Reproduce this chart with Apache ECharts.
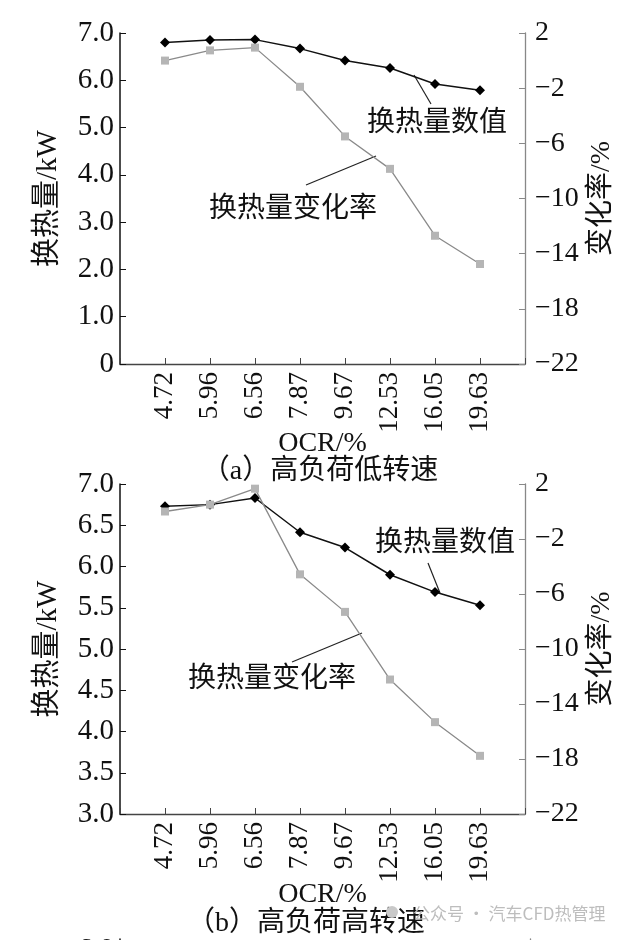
<!DOCTYPE html>
<html>
<head>
<meta charset="utf-8">
<script src="https://cdn.jsdelivr.net/npm/echarts@6/dist/echarts.min.js"></script>
<style>
html,body{margin:0;padding:0;background:#fff;}
#c{width:624px;height:940px;}
</style>
</head>
<body>
<div id="c"></div>
<script>
// ---- data ----
var ocrLabels = ['4.72','5.96','6.56','7.87','9.67','12.53','16.05','19.63'];
// (a) high load, low speed
var heatA = [6.80, 6.85, 6.86, 6.67, 6.42, 6.26, 5.92, 5.79];
var rateA = [0.0, 0.74, 0.94, -1.9, -5.5, -7.85, -12.7, -14.75];
// (b) high load, high speed
var heatB = [6.73, 6.75, 6.83, 6.415, 6.23, 5.90, 5.69, 5.53];
var rateB = [0.0, 0.5, 1.66, -4.57, -7.3, -12.22, -15.32, -17.77];
// tick ranges
var leftA = {min:0, max:7, interval:1};
var leftB = {min:3, max:7, interval:0.5};
var rightAx = {min:-22, max:2, interval:4};

// ---- helpers ----
var SERIF = '"Liberation Serif","Times New Roman","Noto Sans CJK SC",serif';
var CJK = '"Liberation Serif","Noto Sans CJK SC",sans-serif';
var cats = [''].concat(ocrLabels).concat(['']);
function pad(a){ return [null].concat(a).concat([null]); }
function minusFmt(v){ return String(v).replace('-', '\u2212'); }

var grids = [
  {left:120, right:92, top:33, height:331},
  {left:120, right:94, top:484, height:330},
  {left:120, right:94, top:939, height:330}
];

function xAxis(gi, showName, nameGap){
  return {
    type:'category', gridIndex:gi, data:cats, boundaryGap:false,
    axisLine:{onZero:false, lineStyle:{color:'#444', width:1.3}},
    axisTick:{inside:true, length:6, lineStyle:{color:'#444'}, alignWithLabel:true},
    axisLabel:{show:showName, rotate:90, margin:8, color:'#111', fontFamily:SERIF, fontSize:27, interval:0},
    name: showName ? 'OCR/%' : '', nameLocation:'middle', nameGap:nameGap, nameMoveOverlap:false,
    nameTextStyle:{color:'#111', fontFamily:SERIF, fontSize:28},
    splitLine:{show:false}
  };
}
function leftY(gi, r, showName){
  return {
    type:'value', gridIndex:gi, position:'left', min:r.min, max:r.max, interval:r.interval,
    axisLine:{show:true, onZero:false, lineStyle:{color:'#111', width:1.5}},
    axisTick:{show:true, inside:true, length:6, lineStyle:{color:'#111'}},
    axisLabel:{margin:6, color:'#111', fontFamily:SERIF, fontSize:29,
      formatter:function(v){ return v===0 ? '0' : v.toFixed(1); }},
    splitLine:{show:false},
    name: showName ? '换热量/kW' : '', nameLocation:'middle', nameGap:57, nameRotate:90, nameMoveOverlap:false,
    nameTextStyle:{color:'#111', fontFamily:CJK, fontSize:29}
  };
}
function rightY(gi, showName){
  return {
    type:'value', gridIndex:gi, position:'right', min:rightAx.min, max:rightAx.max, interval:rightAx.interval,
    axisLine:{show:true, onZero:false, lineStyle:{color:'#888', width:1.3}},
    axisTick:{show:true, inside:true, length:6, lineStyle:{color:'#888'}},
    axisLabel:{margin:10, color:'#111', fontFamily:SERIF, fontSize:28, formatter:minusFmt},
    splitLine:{show:false},
    name: showName ? '变化率/%' : '', nameLocation:'middle', nameGap:63, nameRotate:90, nameMoveOverlap:false,
    nameTextStyle:{color:'#111', fontFamily:CJK, fontSize:28}
  };
}
function heatSeries(xi, yi, d){
  return {type:'line', xAxisIndex:xi, yAxisIndex:yi, data:pad(d), symbol:'diamond', symbolSize:10,
    itemStyle:{color:'#000'}, lineStyle:{color:'#111', width:1.5}, connectNulls:false, z:3, silent:true, animation:false};
}
function rateSeries(xi, yi, d){
  return {type:'line', xAxisIndex:xi, yAxisIndex:yi, data:pad(d), symbol:'rect', symbolSize:8,
    itemStyle:{color:'#b5b5b5'}, lineStyle:{color:'#8a8a8a', width:1.3}, z:4, silent:true, animation:false};
}
function txt(x, y, s, size, color, family, align){
  return {type:'text', x:x, y:y, style:{text:s, fontSize:size, fill:color||'#111',
    fontFamily:family||CJK, textAlign:align||'center', textVerticalAlign:'middle'}};
}
function seg(x1,y1,x2,y2){
  return {type:'line', shape:{x1:x1,y1:y1,x2:x2,y2:y2}, style:{stroke:'#222', lineWidth:1.2}};
}

var option = {
  backgroundColor:'#fff',
  animation:false,
  grid: grids,
  xAxis: [xAxis(0,true,66), xAxis(1,true,67), xAxis(2,false,60)],
  yAxis: [leftY(0,leftA,true), rightY(0,true), leftY(1,leftB,true), rightY(1,true), leftY(2,leftA,false), rightY(2,false)],
  series: [
    heatSeries(0,0,heatA), rateSeries(0,1,rateA),
    heatSeries(1,2,heatB), rateSeries(1,3,rateB)
  ],
  graphic: [
    // annotations (a)
    txt(437, 124, '换热量数值', 28),
    seg(414, 75, 431, 104),
    txt(293, 210, '换热量变化率', 28),
    seg(376, 156, 306, 185),
    txt(320, 472, '（a）高负荷低转速', 28),
    // annotations (b)
    txt(445, 544, '换热量数值', 28),
    seg(428, 563, 440, 593),
    txt(272, 680, '换热量变化率', 28),
    seg(362, 633, 292, 662),
    txt(306, 924, '（b）高负荷高转速', 28),
    // watermark
    {type:'circle', shape:{cx:392, cy:912, r:6}, style:{fill:'#c9c9c9'}},
    txt(413, 914, '公众号 · 汽车CFD热管理', 17, '#bdbdbd', '"Noto Sans CJK SC",sans-serif', 'left')
  ]
};
var chart = echarts.init(document.getElementById('c'), null, {renderer:'canvas'});
chart.setOption(option);
</script>
</body>
</html>
